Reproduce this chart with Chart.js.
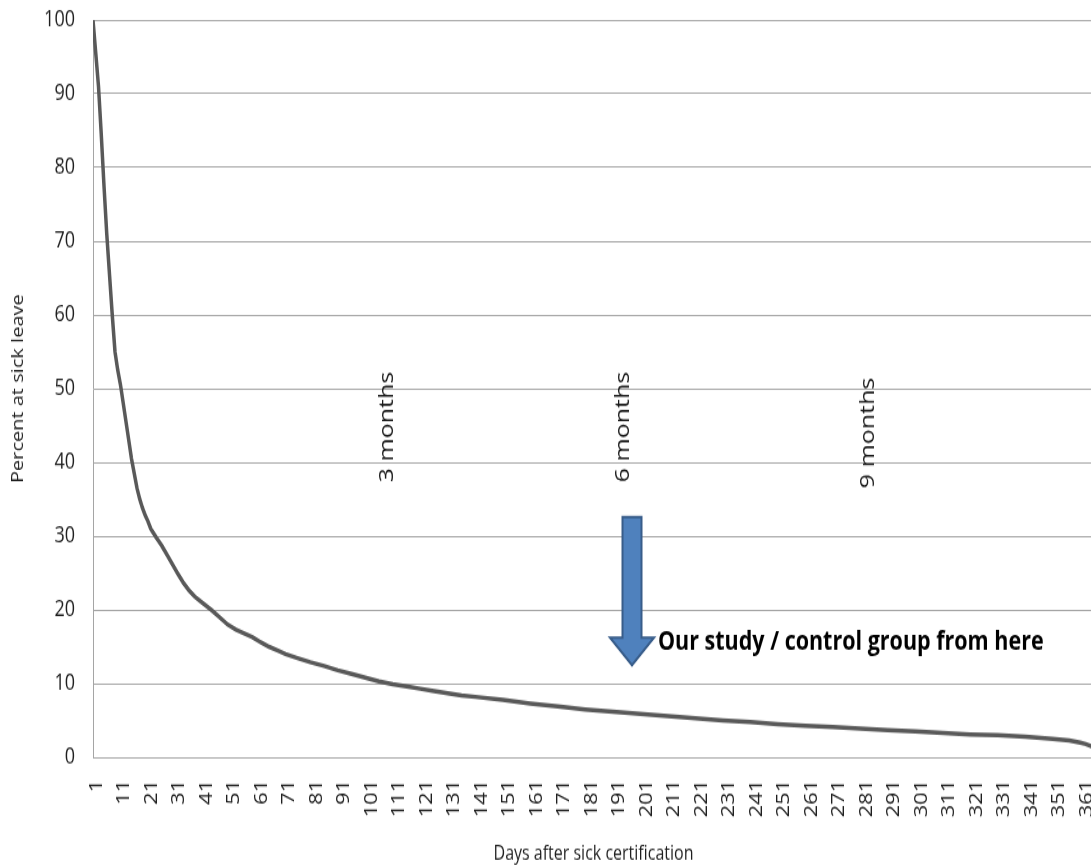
<!DOCTYPE html>
<html lang="en">
<head>
<meta charset="UTF-8">
<title>Percent at sick leave</title>
<script src="https://cdn.jsdelivr.net/npm/chart.js"></script>
<style>
  html, body { margin: 0; padding: 0; background: #fff; overflow: hidden; }
</style>
</head>
<body>
<!-- the original picture is stretched vertically, so the canvas is drawn short and shown tall -->
<canvas id="sickChart" width="1094" height="693" style="width:1094px;height:866px;display:block"></canvas>

<script>
const days = [1, 2, 3, 4, 5, 6, 7, 8, 9, 10, 11, 12, 13, 14, 15, 16, 17, 18, 19, 20,
  21, 22, 23, 24, 26, 28, 30, 32, 34, 36, 38, 40, 42, 44, 47, 50, 53, 56, 59, 62,
  65, 68, 71, 75, 80, 85, 90, 95, 100, 105, 110, 115, 120, 125, 130, 135, 140, 150,
  160, 170, 180, 190, 200, 210, 220, 230, 240, 250, 260, 270, 280, 290, 300, 310,
  320, 330, 340, 350, 356, 360, 362, 364, 365];

const percentAtLeave = [100, 95.5, 91, 84.5, 77.5, 71, 65.5, 60, 55, 52.5, 50.5, 48, 45.5, 43, 40.5, 38.5, 36.5, 35, 33.8, 32.8,
  32, 31, 30.4, 29.8, 28.7, 27.4, 26.1, 24.8, 23.6, 22.6, 21.8, 21.2, 20.6, 20, 19, 18, 17.3, 16.8, 16.3, 15.6,
  15, 14.5, 14, 13.5, 12.9, 12.4, 11.8, 11.3, 10.8, 10.3, 9.9, 9.6, 9.3, 9.0, 8.7, 8.4, 8.2, 7.8,
  7.3, 6.9, 6.5, 6.2, 5.9, 5.6, 5.3, 5.0, 4.8, 4.5, 4.3, 4.1, 3.9, 3.7, 3.5, 3.3,
  3.1, 3.0, 2.8, 2.5, 2.3, 2.0, 1.8, 1.5, 1.2];

const dayTicks = [1, 11, 21, 31, 41, 51, 61, 71, 81, 91, 101, 111, 121, 131, 141, 151, 161, 171, 181,
  191, 201, 211, 221, 231, 241, 251, 261, 271, 281, 291, 301, 311, 321, 331, 341, 351, 361];

const monthLabels = ['3 months', '6 months', '9 months'];
const monthDays = [110, 196, 285];
const monthBase = [37.3, 37.3, 36.5];

const arrowDay = 197;
const arrowTop = 32.6;
const arrowTip = 12.5;
const arrowText = 'Our study / control group from here';
const arrowTextLevel = 14.5;

// draws the month notes and the blue arrow
const notesPlugin = {
  id: 'notes',
  afterDatasetsDraw(chart) {
    const { ctx, scales: { x, y } } = chart;
    ctx.save();

    // rotated month labels
    ctx.fillStyle = '#1a1a1a';
    ctx.font = '20px "Open Sans"';
    ctx.textAlign = 'left';
    ctx.textBaseline = 'alphabetic';
    monthLabels.forEach((txt, i) => {
      ctx.save();
      ctx.translate(x.getPixelForValue(monthDays[i]), y.getPixelForValue(monthBase[i]));
      ctx.rotate(-Math.PI / 2);
      ctx.fillText(txt, 0, 0);
      ctx.restore();
    });

    // arrow
    const cx = x.getPixelForValue(arrowDay);
    const top = y.getPixelForValue(arrowTop);
    const tip = y.getPixelForValue(arrowTip);
    const shaft = 9.5, head = 22, headLen = 22;
    ctx.beginPath();
    ctx.moveTo(cx - shaft, top);
    ctx.lineTo(cx + shaft, top);
    ctx.lineTo(cx + shaft, tip - headLen);
    ctx.lineTo(cx + head, tip - headLen);
    ctx.lineTo(cx, tip);
    ctx.lineTo(cx - head, tip - headLen);
    ctx.lineTo(cx - shaft, tip - headLen);
    ctx.closePath();
    ctx.fillStyle = '#4f81bd';
    ctx.fill();
    ctx.lineWidth = 2;
    ctx.strokeStyle = '#385d8a';
    ctx.stroke();

    ctx.fillStyle = '#000';
    ctx.font = 'bold 21.5px "Open Sans"';
    ctx.fillText(arrowText, cx + 26, y.getPixelForValue(arrowTextLevel));
    ctx.restore();
  }
};

const ctx = document.getElementById('sickChart').getContext('2d');
new Chart(ctx, {
  type: 'line',
  data: {
    datasets: [{
      data: days.map((d, i) => ({ x: d, y: percentAtLeave[i] })),
      borderColor: '#595959',
      borderWidth: 3.5,
      pointRadius: 0,
      tension: 0,
      fill: false
    }]
  },
  options: {
    responsive: false,
    animation: false,
    layout: { padding: { top: 16, right: 0, left: 0, bottom: 0 } },
    plugins: { legend: { display: false }, tooltip: { enabled: false } },
    scales: {
      x: {
        type: 'linear',
        min: 1,
        max: 365,
        afterBuildTicks: (scale) => { scale.ticks = dayTicks.map(v => ({ value: v })); },
        afterFit: (scale) => {
          scale.height = 87;
          scale.paddingLeft = 0;
          scale.paddingRight = 0;
        },
        grid: { display: false },
        border: { display: true, color: '#a5a5a5', width: 1 },
        ticks: {
          autoSkip: false,
          maxRotation: 90,
          minRotation: 90,
          padding: 10,
          labelOffset: 4,
          color: '#1f1f1f',
          font: { family: 'Open Sans', size: 17.5 }
        },
        title: {
          display: true,
          text: 'Days after sick certification',
          color: '#1f1f1f',
          font: { family: 'Open Sans', size: 16 },
          padding: { top: 0, bottom: 0 }
        }
      },
      y: {
        min: 0,
        max: 100,
        ticks: {
          stepSize: 10,
          padding: 18,
          color: '#1f1f1f',
          font: { family: 'Open Sans', size: 18 }
        },
        afterFit: (scale) => {
          scale.width = 93;
          scale.paddingTop = 0;
          scale.paddingBottom = 0;
        },
        grid: { color: '#a5a5a5', lineWidth: 1, drawTicks: false },
        border: { display: true, color: '#a5a5a5', width: 1 },
        title: {
          display: true,
          text: 'Percent at sick leave',
          color: '#1f1f1f',
          font: { family: 'Open Sans', size: 16 },
          padding: { top: 9, bottom: 0 }
        }
      }
    }
  },
  plugins: [notesPlugin]
});
</script>
</body>
</html>
